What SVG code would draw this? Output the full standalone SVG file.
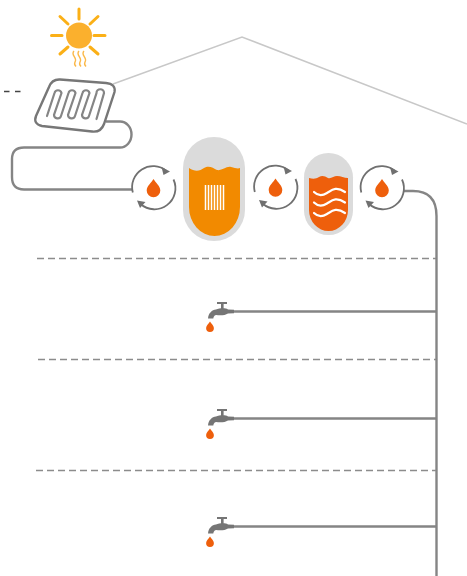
<svg xmlns="http://www.w3.org/2000/svg" width="467" height="576" viewBox="0 0 467 576">
<style>
.pipe{fill:none;stroke:#858585;stroke-width:2.4}
.dash{fill:none;stroke:#8c8c8c;stroke-width:1.6;stroke-dasharray:7 4}
.ring{fill:none;stroke:#707070;stroke-width:1.8}
.ah{fill:#707070}
.drop{fill:#ee5f0c}
.ray{stroke:#fbb017;stroke-width:3;stroke-linecap:round}
.heat{fill:none;stroke:#fbb94a;stroke-width:1.4}
.wv{fill:none;stroke:#fff;stroke-width:2.200;stroke-linecap:round}
.fin{stroke:#fff;stroke-width:1.500}
.tap{fill:#757575}
</style>
<defs>
<g id="pump">
<path class="ring" d="M-20.700 5A21 21 0 0 1 13 -16.500"/>
<path class="ring" d="M20 -8A21 21 0 0 1 -13 16.500"/>
<path class="ah" d="M16.500 -16L8 -20.500L10 -12.500Z"/>
<path class="ah" d="M-16.500 13L-8 14.500L-13.500 20.500Z"/>
<path class="drop" d="M0 -8.500C2 -5 6.800 -1.500 6.800 3A6.800 6.800 0 0 1 -6.800 3C-6.800 -1.500 -2 -5 0 -8.500Z"/>
</g>
<g id="tap">
<path class="tap" d="M208 318.500C208.500 313 212 310 216 309.500C219 308.500 225 307.500 228 309.500L234 309.800V313.200L228 313.500C225 315.500 220 315.500 216 315C214 315.500 213.500 317 213.300 318.500Z"/>
<rect class="tap" x="221" y="303" width="2.600" height="6"/>
<rect class="tap" x="217" y="302" width="10" height="2"/>
<path class="drop" d="M210 321.500C211 323.500 213.900 325.500 213.900 328A3.900 3.900 0 0 1 206.100 328C206.100 325.500 209 323.500 210 321.500Z"/>
</g>
</defs>
<g id="house"><path d="M113 84L242 37L467 124" fill="none" stroke="#c8c8c8" stroke-width="1.500"/></g>
<g id="connectors">
<path class="pipe" d="M106 121.500H120A11.500 13 0 0 1 120 147.500H24Q12 147.500 12 159V177Q12 189.500 24 189.500H133"/>
<path class="pipe" d="M403 191H413Q436.500 191 436.500 216V576"/>
<path class="pipe" d="M234 311.500H436"/>
<path class="pipe" d="M234 418.500H436"/>
<path class="pipe" d="M234 526.500H436"/>
</g>
<g id="floors">
<path class="dash" d="M37 258.500H436"/>
<path class="dash" d="M38 359.500H436"/>
<path class="dash" d="M36 470.500H436"/>
<path d="M4 91.500H9.500M15 91.500H20.500" stroke="#444" stroke-width="1.300" fill="none"/>
</g>
<g id="sun">
<circle cx="79" cy="35.500" r="13" fill="#fbb02d"/>
<path class="ray" d="M79 9V19M51.500 35.500H62M94 35.500H105M60 16.500L68 24M98 16.500L90 24M60 54L68 47M98 54L90 47"/>
<path class="heat" d="M74 51C70 55 78 58 75 62C74 64 75 65.500 76 66.500M79 51C75 55 83 58 80 62C79 64 80 65.500 81 66.500M84 51C80 55 88 58 85 62C84 64 85 65.500 86 66.500"/>
</g>
<g id="panel">
<path d="M60 79.500L106 83Q116 84 114.500 92L104 124Q101 132.500 92 131.500L42 126Q33 124 36 116L49 87Q52 79 60 79.500Z" fill="#fff" stroke="#777" stroke-width="2.400"/>
<path d="M47 116L54.500 93A3.600 3.600 0 0 1 61.500 93L54 115A3.600 3.600 0 0 0 61 116L68.500 93A3.600 3.600 0 0 1 75.500 93L68 115A3.600 3.600 0 0 0 75 116L82.500 93A3.600 3.600 0 0 1 89.500 93L82 115A3.600 3.600 0 0 0 89 116L96.500 93A3.600 3.600 0 0 1 104 93L96.500 119" fill="none" stroke="#858585" stroke-width="2.200" stroke-linecap="round"/>
</g>
<g id="pump1"><use href="#pump" x="153.500" y="187.500"/></g>
<g id="boiler">
<rect x="183" y="137" width="62" height="104" rx="31" fill="#dbdbdb"/>
<path d="M189 168C195 172 200 171 204 168C209 165 213 168 217 170C222 171 226 166 231 167C235 168 238 169 240 168V207A25.500 29 0 0 1 189 207Z" fill="#f28a00"/>
<path class="fin" d="M205.500 185V210M208.500 185V210M211.500 185V210M214.500 185V210M217.500 185V210M220.500 185V210M223.500 185V210"/>
</g>
<g id="pump2"><use href="#pump" x="275.500" y="187"/></g>
<g id="tank">
<rect x="304" y="153" width="49" height="82" rx="24.500" fill="#dbdbdb"/>
<path d="M309 178C313 179 316 179 319 177C322 175 325 176 328 178C331 179 334 176 337 176C341 176 344 178 348 178V210A19.500 21 0 0 1 309 210Z" fill="#ee5f0c"/>
<path class="wv" d="M314 192C318 196 322 196 327 193C332 190 336 186 345 192M314 202.500C318 206.500 322 206.500 327 203.500C332 200.500 336 196.500 345 202.500M314 213C318 217 322 217 327 214C332 211 336 207 345 213"/>
</g>
<g id="pump3"><use href="#pump" x="382" y="187.500"/></g>
<g id="tap1"><use href="#tap"/></g>
<g id="tap2"><use href="#tap" y="107"/></g>
<g id="tap3"><use href="#tap" y="215"/></g>
</svg>
